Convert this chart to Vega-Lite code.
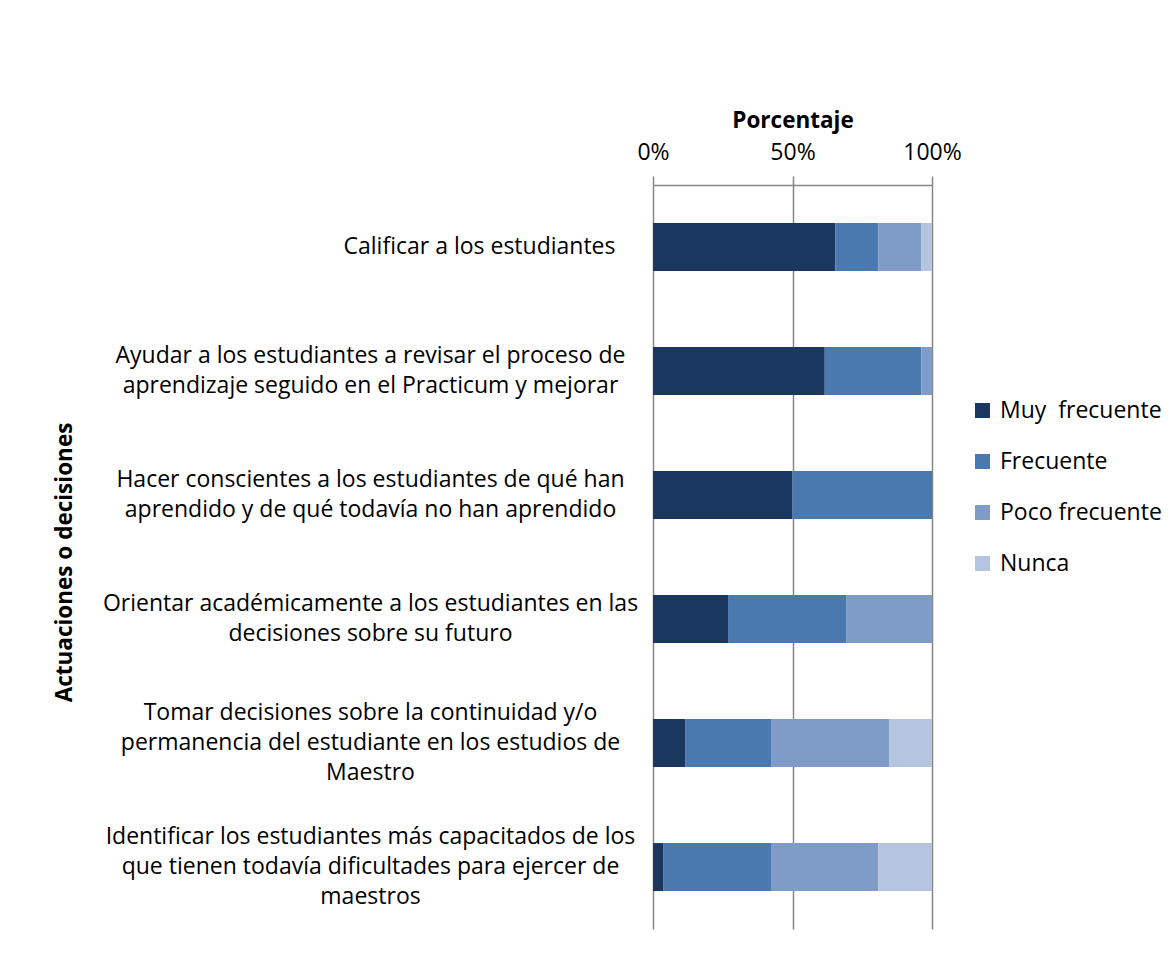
{
  "$schema": "https://vega.github.io/schema/vega-lite/v6.json",
  "autosize": {"type": "none"},
  "width": 279,
  "height": 744,
  "padding": {"left": 653, "top": 185, "right": 244, "bottom": 35},
  "background": "white",
  "config": {
    "font": "Open Sans",
    "view": {"stroke": null},
    "axis": {"labelFont": "Open Sans", "titleFont": "Open Sans", "labelColor": "#000000", "titleColor": "#000000"}
  },
  "data": {
    "values": [
      {"actuacion": "Calificar a los estudiantes", "frecuencia": "Muy  frecuente", "orden": 1, "pct": 65.4},
      {"actuacion": "Calificar a los estudiantes", "frecuencia": "Frecuente", "orden": 2, "pct": 15.4},
      {"actuacion": "Calificar a los estudiantes", "frecuencia": "Poco frecuente", "orden": 3, "pct": 15.4},
      {"actuacion": "Calificar a los estudiantes", "frecuencia": "Nunca", "orden": 4, "pct": 3.8},
      {"actuacion": "Ayudar a los estudiantes a revisar el proceso de|aprendizaje seguido en el Practicum y mejorar", "frecuencia": "Muy  frecuente", "orden": 1, "pct": 61.5},
      {"actuacion": "Ayudar a los estudiantes a revisar el proceso de|aprendizaje seguido en el Practicum y mejorar", "frecuencia": "Frecuente", "orden": 2, "pct": 34.6},
      {"actuacion": "Ayudar a los estudiantes a revisar el proceso de|aprendizaje seguido en el Practicum y mejorar", "frecuencia": "Poco frecuente", "orden": 3, "pct": 3.8},
      {"actuacion": "Ayudar a los estudiantes a revisar el proceso de|aprendizaje seguido en el Practicum y mejorar", "frecuencia": "Nunca", "orden": 4, "pct": 0},
      {"actuacion": "Hacer conscientes a los estudiantes de qué han|aprendido y de qué todavía no han aprendido", "frecuencia": "Muy  frecuente", "orden": 1, "pct": 50},
      {"actuacion": "Hacer conscientes a los estudiantes de qué han|aprendido y de qué todavía no han aprendido", "frecuencia": "Frecuente", "orden": 2, "pct": 50},
      {"actuacion": "Hacer conscientes a los estudiantes de qué han|aprendido y de qué todavía no han aprendido", "frecuencia": "Poco frecuente", "orden": 3, "pct": 0},
      {"actuacion": "Hacer conscientes a los estudiantes de qué han|aprendido y de qué todavía no han aprendido", "frecuencia": "Nunca", "orden": 4, "pct": 0},
      {"actuacion": "Orientar académicamente a los estudiantes en las|decisiones sobre su futuro", "frecuencia": "Muy  frecuente", "orden": 1, "pct": 26.9},
      {"actuacion": "Orientar académicamente a los estudiantes en las|decisiones sobre su futuro", "frecuencia": "Frecuente", "orden": 2, "pct": 42.3},
      {"actuacion": "Orientar académicamente a los estudiantes en las|decisiones sobre su futuro", "frecuencia": "Poco frecuente", "orden": 3, "pct": 30.8},
      {"actuacion": "Orientar académicamente a los estudiantes en las|decisiones sobre su futuro", "frecuencia": "Nunca", "orden": 4, "pct": 0},
      {"actuacion": "Tomar decisiones sobre la continuidad y/o|permanencia del estudiante en los estudios de|Maestro", "frecuencia": "Muy  frecuente", "orden": 1, "pct": 11.5},
      {"actuacion": "Tomar decisiones sobre la continuidad y/o|permanencia del estudiante en los estudios de|Maestro", "frecuencia": "Frecuente", "orden": 2, "pct": 30.8},
      {"actuacion": "Tomar decisiones sobre la continuidad y/o|permanencia del estudiante en los estudios de|Maestro", "frecuencia": "Poco frecuente", "orden": 3, "pct": 42.3},
      {"actuacion": "Tomar decisiones sobre la continuidad y/o|permanencia del estudiante en los estudios de|Maestro", "frecuencia": "Nunca", "orden": 4, "pct": 15.4},
      {"actuacion": "Identificar los estudiantes más capacitados de los|que tienen todavía dificultades para ejercer de|maestros", "frecuencia": "Muy  frecuente", "orden": 1, "pct": 3.8},
      {"actuacion": "Identificar los estudiantes más capacitados de los|que tienen todavía dificultades para ejercer de|maestros", "frecuencia": "Frecuente", "orden": 2, "pct": 38.5},
      {"actuacion": "Identificar los estudiantes más capacitados de los|que tienen todavía dificultades para ejercer de|maestros", "frecuencia": "Poco frecuente", "orden": 3, "pct": 38.5},
      {"actuacion": "Identificar los estudiantes más capacitados de los|que tienen todavía dificultades para ejercer de|maestros", "frecuencia": "Nunca", "orden": 4, "pct": 19.2}
    ]
  },
  "mark": {"type": "bar"},
  "encoding": {
    "y": {
      "field": "actuacion",
      "type": "nominal",
      "sort": null,
      "scale": {"paddingInner": 0.613, "paddingOuter": 0.306},
      "axis": {
        "title": "Actuaciones o decisiones",
        "titleFontSize": 22.5,
        "titleFontWeight": "bold",
        "titleX": -577,
        "titleY": 377,
        "titleAngle": -90,
        "titleAlign": "center",
        "titleBaseline": "bottom",
        "domain": false,
        "ticks": false,
        "tickSize": 0,
        "grid": false,
        "labelFontSize": 23,
        "labelLineHeight": 30,
        "labelLimit": 700,
        "labelBaseline": "middle",
        "labelExpr": "split(datum.value, '|')",
        "labelOffset": {
          "condition": [
            {"test": "length(split(datum.value, '|')) === 3", "value": -30},
            {"test": "length(split(datum.value, '|')) === 2", "value": -15}
          ],
          "value": 0
        },
        "labelAlign": {"condition": {"test": "indexof(datum.value, 'Calificar') === 0", "value": "right"}, "value": "center"},
        "labelPadding": {"condition": {"test": "indexof(datum.value, 'Calificar') === 0", "value": 38}, "value": 283}
      }
    },
    "x": {
      "field": "pct",
      "type": "quantitative",
      "stack": "normalize",
      "scale": {"domain": [0, 1], "nice": false},
      "axis": {
        "orient": "top",
        "title": "Porcentaje",
        "titleFontSize": 22.5,
        "titleFontWeight": "bold",
        "titlePadding": 9,
        "values": [0, 0.5, 1],
        "format": ".0%",
        "labelFlush": false,
        "labelFontSize": 23,
        "labelPadding": 12,
        "tickSize": 9,
        "tickColor": "#868686",
        "tickWidth": 1.5,
        "domainColor": "#868686",
        "domainWidth": 1.5,
        "grid": true,
        "gridColor": "#868686",
        "gridWidth": 1.5,
        "gridOpacity": 1
      }
    },
    "color": {
      "field": "frecuencia",
      "type": "nominal",
      "scale": {
        "domain": ["Muy  frecuente", "Frecuente", "Poco frecuente", "Nunca"],
        "range": ["#1a3760", "#4a79b0", "#7f9cc8", "#b5c4df"]
      },
      "legend": {
        "title": null,
        "orient": "none",
        "legendX": 318,
        "legendY": 214,
        "symbolType": "square",
        "symbolSize": 225,
        "symbolStrokeWidth": 0,
        "labelFontSize": 23,
        "labelFont": "Open Sans",
        "labelColor": "#000000",
        "labelOffset": 6,
        "rowPadding": 27,
        "labelLimit": 300,
        "labelExpr": "replace(datum.label, '  ', '\u00a0 ')"
      }
    },
    "order": {"field": "orden", "type": "quantitative"}
  }
}
